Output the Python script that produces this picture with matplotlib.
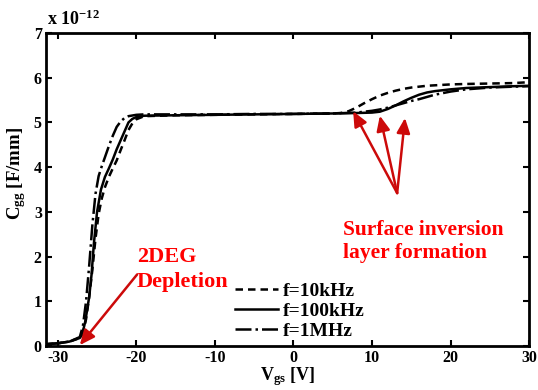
import numpy as np
import matplotlib
matplotlib.use("Agg")
import matplotlib.pyplot as plt

plt.rcParams["font.family"] = ["Liberation Serif", "DejaVu Serif"]
plt.rcParams["font.weight"] = "bold"
plt.rcParams["axes.unicode_minus"] = False
plt.rcParams["mathtext.fontset"] = "custom"
plt.rcParams["mathtext.rm"] = "Liberation Serif:bold"
plt.rcParams["mathtext.bf"] = "Liberation Serif:bold"
plt.rcParams["mathtext.it"] = "Liberation Serif:bold"

# Vgs [V] and Cgg [1e-12 F/mm]
v_10k = [-31.5, -30, -28.5, -27.2, -26.8, -26.4, -26, -25.6, -25.2, -24.8, -24.4, -24, -23.5, -23,
         -22.5, -22, -21.5, -21, -20.5, -20, -19, -15, -10, -5, 0, 5, 6, 7, 8, 9, 10, 11, 12, 13, 14,
         15, 16, 17, 18, 20, 22, 25, 28, 30]
c_10k = [0.04, 0.06, 0.1, 0.18, 0.3, 0.6, 1.1, 1.7, 2.4, 2.95, 3.3, 3.55, 3.78, 3.97,
         4.15, 4.38, 4.6, 4.83, 4.98, 5.07, 5.14, 5.16, 5.17, 5.18, 5.19, 5.2, 5.21, 5.25, 5.33, 5.43, 5.52, 5.6, 5.66, 5.71, 5.75,
         5.78, 5.8, 5.82, 5.83, 5.85, 5.86, 5.87, 5.88, 5.9]

v_100k = [-31.5, -30, -28.5, -27.2, -26.9, -26.5, -26, -25.7, -25.4, -25, -24.5, -24, -23.5, -23,
          -22.5, -22, -21.5, -21, -20.5, -20, -19, -15, -10, -5, 0, 5, 8, 10, 11, 12, 13, 14,
          15, 16, 17, 18, 20, 22, 25, 28, 30]
c_100k = [0.04, 0.06, 0.1, 0.18, 0.25, 0.55, 1.1, 1.6, 2.3, 3.0, 3.5, 3.78, 3.97, 4.17,
          4.4, 4.6, 4.8, 5.0, 5.08, 5.12, 5.15, 5.16, 5.17, 5.18, 5.19, 5.2, 5.21, 5.22, 5.24, 5.3, 5.38, 5.47,
          5.55, 5.62, 5.67, 5.7, 5.74, 5.77, 5.79, 5.81, 5.82]

v_1M = [-31.5, -30, -28.5, -27.2, -26.8, -26.4, -26, -25.6, -25.2, -24.8, -24.4, -24, -23.5, -23,
        -22.5, -22, -21.5, -21, -20, -19, -15, -10, -5, 0, 5, 8, 10, 11, 12, 13, 14,
        15, 16, 17, 18, 20, 22, 25, 28, 30]
c_1M = [0.04, 0.06, 0.1, 0.2, 0.45, 1.0, 1.8, 2.7, 3.4, 3.8, 4.02, 4.22, 4.47, 4.7,
        4.9, 5.02, 5.1, 5.14, 5.17, 5.18, 5.18, 5.18, 5.19, 5.19, 5.2, 5.22, 5.26, 5.29, 5.33, 5.38, 5.43,
        5.48, 5.52, 5.57, 5.62, 5.69, 5.74, 5.78, 5.8, 5.81]

labels = ["f=10kHz", "f=100kHz", "f=1MHz"]
xticks = [-30, -20, -10, 0, 10, 20, 30]
yticks = [0, 1, 2, 3, 4, 5, 6, 7]

fig = plt.figure(figsize=(5.38, 3.9), dpi=100)
ax = fig.add_axes([0.0855, 0.1128, 0.898, 0.8026])

ax.plot(v_10k, c_10k, color="k", lw=1.8, dashes=(3, 2), label=labels[0])
ax.plot(v_100k, c_100k, color="k", lw=1.8, ls="-", label=labels[1])
ax.plot(v_1M, c_1M, color="k", lw=1.8, ls="-.", label=labels[2])

ax.set_xlim(-31.5, 30)
ax.set_ylim(0, 7)
ax.set_xticks(xticks)
ax.set_yticks(yticks)
ax.tick_params(direction="in", top=True, right=True, length=4, width=1.5,
               labelsize=11.5, pad=3)
for lab in ax.get_xticklabels() + ax.get_yticklabels():
    lab.set_fontweight("bold")
for s in ax.spines.values():
    s.set_linewidth(2)

ax.set_xlabel(r"V$_{\mathrm{gs}}$ [V]", fontsize=13, fontweight="bold", labelpad=-1)
ax.set_ylabel(r"C$_{\mathrm{gg}}$ [F/mm]", fontsize=13.5, fontweight="bold")
ax.yaxis.set_label_coords(-0.038, 0.55)
fig.text(0.087, 0.925, r"x 10$^{\mathrm{-12}}$", fontsize=13, fontweight="bold",
         ha="left", va="bottom")

leg = ax.legend(loc="center left", bbox_to_anchor=(0.375, 0.112), frameon=False,
                fontsize=14, handlelength=2.2, handletextpad=0.26, labelspacing=0.12,
                borderaxespad=0.0)
for t in leg.get_texts():
    t.set_fontweight("bold")

red = "#ff0000"
arrow = dict(arrowstyle="-|>,head_length=0.9,head_width=0.4", color="#cc0a0a", lw=1.8,
             shrinkA=0, shrinkB=0)
ax.annotate("", xy=(-27.2, 0.02), xytext=(-19.9, 1.6), arrowprops=arrow)
ax.text(-19.9, 1.88, "2DEG", color=red, fontsize=16, fontweight="bold",
        ha="left", va="baseline")
ax.text(-19.9, 1.32, "Depletion", color=red, fontsize=16, fontweight="bold",
        ha="left", va="baseline")

ax.text(6.3, 2.48, "Surface inversion", color=red, fontsize=15.5,
        fontweight="bold", ha="left", va="baseline")
ax.text(6.3, 1.97, "layer formation", color=red, fontsize=15.5,
        fontweight="bold", ha="left", va="baseline")
for tip in [(7.6, 5.25), (11.0, 5.15), (14.2, 5.1)]:
    ax.annotate("", xy=tip, xytext=(13.2, 3.42), arrowprops=arrow)

fig.savefig("out.png", dpi=100)
